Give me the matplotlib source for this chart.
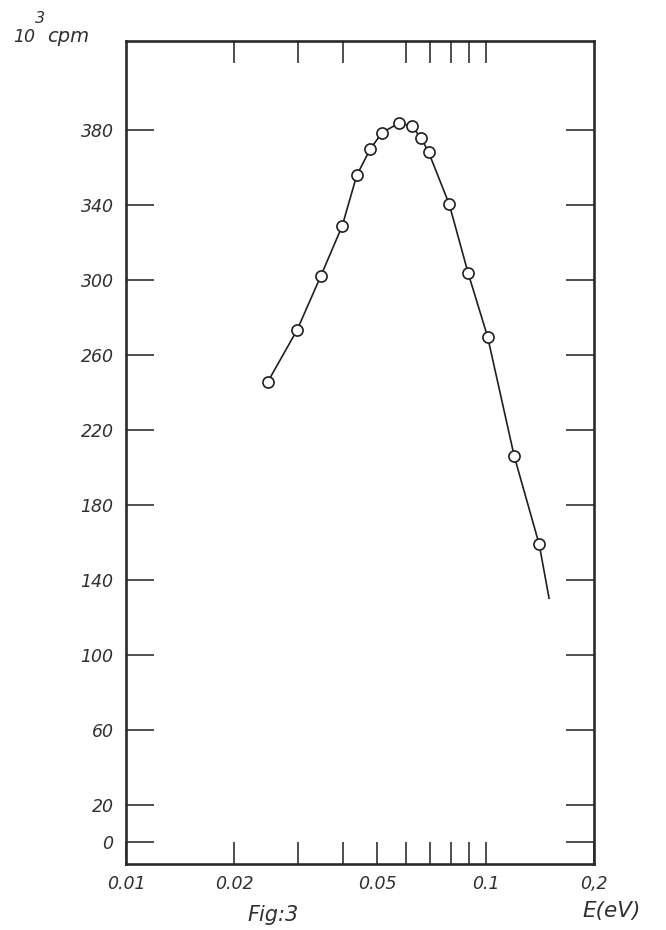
import matplotlib

matplotlib.use("Agg")

import matplotlib.pyplot as plt

# measured points (energy in eV, counts in 10^3 cpm)
energy_ev = [0.0248, 0.0299, 0.0348, 0.0399, 0.0438, 0.0477, 0.0515, 0.0573,
             0.0622, 0.0662, 0.0694, 0.0792, 0.0893, 0.1012, 0.1200, 0.1408]
counts = [245.7, 273.3, 302.1, 328.8, 355.8, 369.7, 378.6, 383.6,
          382.3, 375.6, 368.1, 340.3, 303.8, 269.7, 206.0, 158.9]

# hand-drawn curve runs a little past the last point
curve_end_e = 0.150
curve_end_counts = 130.1

y_ticks = [0, 20, 60, 100, 140, 180, 220, 260, 300, 340, 380]
x_major = [0.01, 0.02, 0.05, 0.1, 0.2]
x_major_labels = ["0.01", "0.02", "0.05", "0.1", "0,2"]
x_minor = [0.03, 0.04, 0.06, 0.07, 0.08, 0.09]
x_top = [0.02, 0.03, 0.04, 0.06, 0.07, 0.08, 0.09, 0.1]

INK = "#1f1f1f"
TXT = "#303030"

fig = plt.figure(figsize=(6.66, 9.30), dpi=100)
ax = fig.add_axes([0.1892, 0.0710, 0.7027, 0.8849])

ax.plot(energy_ev + [curve_end_e], counts + [curve_end_counts],
        color=INK, linewidth=1.2, zorder=2)
ax.plot(energy_ev, counts, linestyle="none", marker="o", markersize=8,
        markerfacecolor="white", markeredgecolor=INK, markeredgewidth=1.2,
        zorder=3)

ax.set_xscale("log")
ax.set_xlim(0.01, 0.2)
ax.set_ylim(-11.7, 427.5)

for side in ax.spines.values():
    side.set_linewidth(1.9)
    side.set_color("#2a2a2a")

ax.set_yticks(y_ticks)
ax.set_yticklabels([str(v) for v in y_ticks])
ax.set_xticks(x_major)
ax.set_xticklabels(x_major_labels)
ax.set_xticks(x_minor, minor=True)
ax.set_xticklabels([], minor=True)

ax.tick_params(axis="y", which="major", direction="in", length=20, width=1.1,
               color=INK, right=True, labelright=False, pad=9,
               labelsize=12.5, labelcolor=TXT)
ax.tick_params(axis="x", which="both", direction="in", length=16, width=1.1,
               color=INK, top=False, pad=8, labelsize=12.5, labelcolor=TXT)
for lab in ax.get_xticklabels() + ax.get_yticklabels():
    lab.set_fontstyle("italic")

# top ticks (no mark at 0.05 in the original)
ax_top = ax.twiny()
ax_top.set_xscale("log")
ax_top.set_xlim(ax.get_xlim())
ax_top.set_xticks(x_top)
ax_top.set_xticks([], minor=True)
ax_top.set_xticklabels([])
ax_top.tick_params(axis="x", direction="in", length=16, width=1.1, color=INK)
for side in ax_top.spines.values():
    side.set_visible(False)

# axis titles, placed as on the drawing
fig.text(0.020, 0.955, "10", fontsize=12.5, style="italic", color=TXT)
fig.text(0.053, 0.975, "3", fontsize=11.5, style="italic", color=TXT)
fig.text(0.071, 0.955, "cpm", fontsize=14, style="italic", color=TXT)
fig.text(0.874, 0.014, "E(eV)", fontsize=15.5, style="italic", color=TXT,
         va="baseline")
fig.text(0.372, 0.010, "Fig:3", fontsize=15, style="italic", color=TXT,
         va="baseline")

fig.savefig("out.png", dpi=100)
plt.close(fig)
